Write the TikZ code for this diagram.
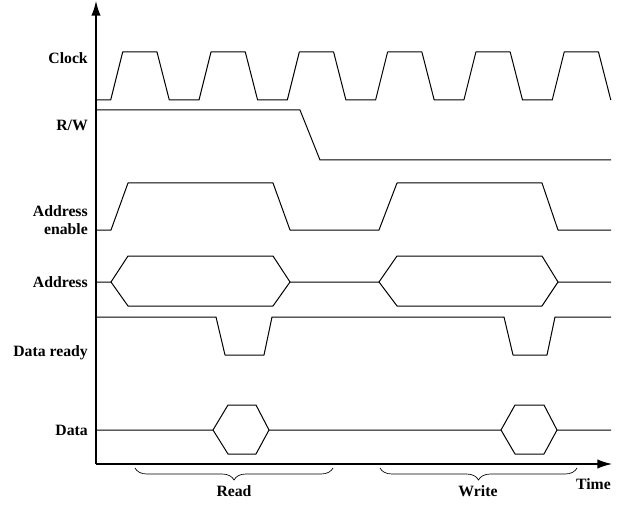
\documentclass[tikz,border=0pt]{standalone}
\usepackage{fontspec}
\setmainfont{Liberation Serif}
\usetikzlibrary{arrows.meta,decorations.pathreplacing}
\begin{document}
\begin{tikzpicture}[x=0.75pt, y=-0.75pt,
  signal/.style={line width=0.75pt, line join=round},
  axis/.style={line width=1pt, -{Latex[length=11pt,width=7pt]}},
  lbl/.style={anchor=east, font=\fontsize{11.8}{13}\selectfont\bfseries, align=right, inner sep=0pt},
  tag/.style={font=\fontsize{11.8}{13}\selectfont\bfseries, inner sep=0pt},
  span/.style={decorate, decoration={brace, mirror, amplitude=9pt}, line width=0.5pt}]
\useasboundingbox (0,0) rectangle (635,506);
\coordinate (origin) at (96,464);
\coordinate (ytop) at (96,1);
\coordinate (xend) at (612,464);
\draw[axis] (origin) -- (ytop);
\draw[axis] (origin) -- (xend);
\node[lbl] (clk) at (88,58) {Clock};
\node[lbl] (rw) at (88,125) {R/W};
\node[lbl] (ae) at (88,220) {Address\\enable};
\node[lbl] (addr) at (88,282) {Address};
\node[lbl] (drdy) at (88,353) {Data ready};
\node[lbl] (data) at (88,430) {Data};
\node[tag, anchor=east] (time) at (611,484) {Time};
\draw[signal] (96,100) foreach \k in {0,...,5} {
  -- ({110.7+88.3*\k},100) -- ({122.7+88.3*\k},52)
  -- ({157+88.3*\k},52) -- ({169.3+88.3*\k},100) };
\draw[signal] (96,110) -- (300,110) -- (320,160) -- (611,160);
\draw[signal] (96,230) -- (111,230) -- (128,183) -- (273,183) -- (290,230)
  -- (379,230) -- (397,183) -- (542,183) -- (558,230) -- (611,230);
\draw[signal] (96,282) -- (111,282) -- (128,256) -- (273,256) -- (290,282)
  -- (379,282) -- (397,256) -- (542,256) -- (558,282) -- (611,282);
\draw[signal] (111,282) -- (128,306) -- (273,306) -- (290,282);
\draw[signal] (379,282) -- (397,306) -- (542,306) -- (558,282);
\draw[signal] (96,317) -- (216,317) -- (225,355) -- (264,355) -- (272,317)
  -- (504,317) -- (513,355) -- (547,355) -- (555,317) -- (611,317);
\draw[signal] (96,430) -- (213,430) -- (228,405) -- (256,405) -- (269,430)
  -- (501,430) -- (515,405) -- (544,405) -- (557,430) -- (611,430);
\draw[signal] (213,430) -- (228,454) -- (256,454) -- (269,430);
\draw[signal] (501,430) -- (515,454) -- (544,454) -- (557,430);
\draw[span] (135,468) -- (333,468);
\draw[span] (380,468) -- (577,468);
\node[tag] (read) at (234,491) {Read};
\node[tag] (write) at (478,491) {Write};
\end{tikzpicture}
\end{document}
